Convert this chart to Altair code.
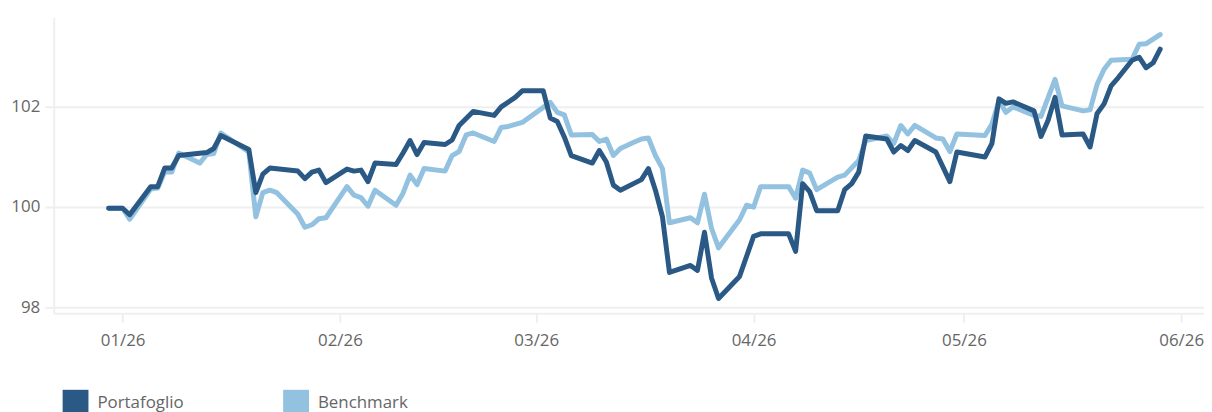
import altair as alt
import pandas as pd

# ---- data (day offsets from 2026-01-01, index values) ----
port_days = [-2, 0, 1, 4, 5, 6, 7, 8, 12, 13, 14, 18, 19, 20, 21, 25, 26, 27, 28, 29,
             32, 33, 34, 35, 36, 39, 40, 41, 42, 43, 46, 47, 48, 50, 53, 54, 56, 57, 60, 61,
             62, 63, 64, 67, 68, 69, 70, 71, 74, 75, 76, 77, 78, 81, 82, 83, 84, 85, 88, 90,
             91, 95, 96, 97, 98, 99, 102, 103, 104, 105, 106, 109, 110, 111, 112, 113, 116, 118, 119, 123,
             124, 125, 126, 127, 130, 131, 132, 133, 134, 137, 138, 139, 140, 141, 142, 144, 145, 146, 147, 148]
port_vals = [99.97, 99.97, 99.84, 100.40, 100.40, 100.77, 100.77, 101.02, 101.08, 101.16,
             101.42, 101.14, 100.28, 100.65, 100.77, 100.71, 100.56, 100.69, 100.73, 100.48,
             100.75, 100.71, 100.73, 100.50, 100.87, 100.84, 101.07, 101.32, 101.04, 101.28,
             101.24, 101.33, 101.62, 101.90, 101.82, 101.99, 102.18, 102.31, 102.31, 101.77,
             101.70, 101.39, 101.02, 100.87, 101.12, 100.89, 100.43, 100.33, 100.54, 100.76,
             100.33, 99.80, 98.69, 98.83, 98.73, 99.49, 98.58, 98.17, 98.61, 99.41,
             99.46, 99.46, 99.11, 100.46, 100.30, 99.92, 99.92, 100.34, 100.46, 100.69,
             101.41, 101.35, 101.09, 101.22, 101.12, 101.32, 101.09, 100.50, 101.09, 100.99,
             101.26, 102.15, 102.06, 102.09, 101.91, 101.40, 101.72, 102.18, 101.43, 101.45,
             101.19, 101.86, 102.05, 102.41, 102.57, 102.92, 102.98, 102.77, 102.87, 103.14]

bench_days = [-2, 0, 1, 4, 5, 6, 7, 8, 11, 12, 13, 14, 18, 19, 20, 21, 22, 25, 26, 27,
              28, 29, 32, 33, 34, 35, 36, 39, 40, 41, 42, 43, 46, 47, 48, 49, 50, 53, 54, 55,
              57, 61, 62, 63, 64, 67, 68, 69, 70, 71, 73, 74, 75, 76, 77, 78, 81, 82, 83, 84,
              85, 88, 89, 90, 91, 95, 96, 97, 98, 99, 102, 103, 105, 106, 109, 110, 111, 112, 113, 116,
              117, 118, 119, 123, 124, 125, 126, 127, 130, 131, 133, 134, 137, 138, 139, 140, 141, 144, 145, 146,
              147, 148]
bench_vals = [99.97, 99.97, 99.75, 100.35, 100.37, 100.69, 100.69, 101.07, 100.87, 101.04,
              101.06, 101.47, 101.09, 99.80, 100.28, 100.33, 100.28, 99.85, 99.59, 99.64,
              99.76, 99.78, 100.40, 100.23, 100.18, 100.01, 100.33, 100.03, 100.27, 100.63,
              100.44, 100.76, 100.71, 101.02, 101.10, 101.43, 101.47, 101.30, 101.58, 101.60,
              101.68, 102.08, 101.88, 101.83, 101.43, 101.44, 101.30, 101.35, 101.02, 101.16,
              101.29, 101.35, 101.37, 101.02, 100.76, 99.68, 99.78, 99.68, 100.25, 99.57,
              99.18, 99.74, 100.03, 99.99, 100.40, 100.40, 100.17, 100.73, 100.67, 100.34,
              100.59, 100.63, 100.92, 101.32, 101.41, 101.26, 101.62, 101.45, 101.62, 101.37,
              101.35, 101.10, 101.45, 101.42, 101.65, 102.11, 101.88, 101.99, 101.82, 101.80,
              102.54, 102.01, 101.91, 101.93, 102.44, 102.74, 102.92, 102.94, 103.24, 103.25,
              103.34, 103.43]

series_names = ["Portafoglio", "Benchmark"]
series_colors = ["#2b5985", "#93c1e0"]
y_ticks = [98, 100, 102]
x_tick_months = [1, 2, 3, 4, 5, 6]

base_date = pd.Timestamp("2026-01-01")


def frame(days, vals, name):
    return pd.DataFrame({
        "date": [(base_date + pd.Timedelta(days=d)).strftime("%Y-%m-%d") for d in days],
        "value": vals,
        "series": name,
    })


df = pd.concat([frame(port_days, port_vals, series_names[0]),
                frame(bench_days, bench_vals, series_names[1])], ignore_index=True)

grid_col = "#efefef"
label_col = "#666666"
font = "Open Sans"

x_enc = alt.X(
    "date:T",
    scale=alt.Scale(
        type="utc",
        domain=[alt.DateTime(year=2025, month=12, date=22, hours=4, utc=True),
                alt.DateTime(year=2026, month=6, date=4, hours=6, utc=True)],
    ),
    axis=alt.Axis(
        values=[alt.DateTime(year=2026, month=m, date=1, utc=True) for m in x_tick_months],
        format="%m/%y", grid=False, title=None,
        domainColor=grid_col, domainWidth=2, tickColor=grid_col, tickWidth=2, tickSize=9,
        labelFontSize=17, labelColor=label_col, labelPadding=10, labelFont=font,
    ),
)
y_enc = alt.Y(
    "value:Q",
    scale=alt.Scale(domain=[97.875, 103.776], nice=False, zero=False),
    axis=alt.Axis(
        values=y_ticks, grid=True, gridColor=grid_col, gridWidth=2, title=None,
        domainColor=grid_col, domainWidth=2, tickColor=grid_col, tickWidth=2, tickSize=9,
        labelFontSize=17, labelColor=label_col, labelPadding=5, labelFont=font,
    ),
)
color_scale = alt.Scale(domain=series_names, range=series_colors)

base = alt.Chart(df)

bench_line = base.transform_filter(alt.datum.series == "Benchmark").mark_line(
    strokeWidth=5, strokeJoin="round", strokeCap="round"
).encode(x=x_enc, y=y_enc, color=alt.Color("series:N", scale=color_scale, legend=None))

port_line = base.transform_filter(alt.datum.series == "Portafoglio").mark_line(
    strokeWidth=5, strokeJoin="round", strokeCap="round"
).encode(x=x_enc, y=y_enc, color=alt.Color("series:N", scale=color_scale, legend=None))

legend_layer = base.transform_filter("false").mark_square(filled=True, opacity=1).encode(
    x=x_enc, y=y_enc,
    color=alt.Color(
        "series:N", scale=color_scale,
        legend=alt.Legend(
            title=None, orient="none", legendX=9, legendY=375, direction="horizontal",
            symbolType="square", symbolSize=676, symbolStrokeWidth=0, symbolOpacity=1,
            labelFontSize=17, labelColor=label_col, labelOffset=9, columnPadding=100,
            padding=0, labelFont=font,
        ),
    ),
)

chart = alt.layer(bench_line, port_line, legend_layer).resolve_scale(
    color="independent"
).properties(
    width=1158, height=298,
    autosize=alt.AutoSizeParams(type="none"),
    padding={"left": 46, "top": 8, "right": 0, "bottom": 98},
).configure(font=font).configure_view(stroke=None)

chart.save("out.html", embed_options={"renderer": "svg", "actions": False})
